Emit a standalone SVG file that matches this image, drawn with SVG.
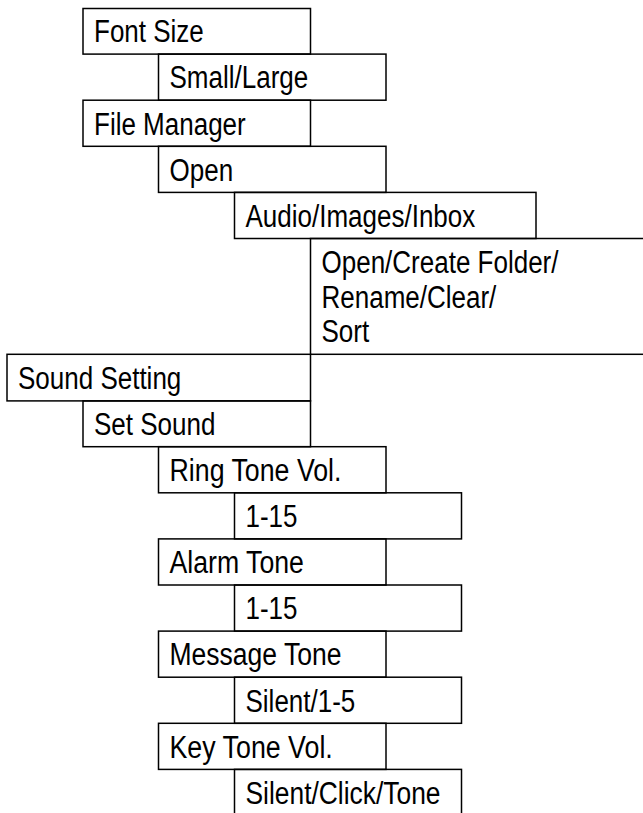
<svg xmlns="http://www.w3.org/2000/svg" width="643" height="813" viewBox="0 0 643 813">
<style>
rect{fill:none;stroke:#000;stroke-width:1.5}
text{font-family:"Liberation Sans Narrow","Liberation Sans",Arial,sans-serif;font-size:31px;fill:#000}
</style>
<rect x="0" y="0" width="643" height="813" style="fill:#fff;stroke:none"/>
<g id="connectors"></g>
<g id="n-font-size"><rect x="83" y="8.5" width="227.5" height="45.6"/><text x="94" y="42.3" textLength="109.8" lengthAdjust="spacingAndGlyphs">Font Size</text></g>
<g id="n-small-large"><rect x="158.5" y="54.1" width="227.5" height="46.1"/><text x="169.5" y="88.4" textLength="138.7" lengthAdjust="spacingAndGlyphs">Small/Large</text></g>
<g id="n-file-manager"><rect x="83" y="100.2" width="227.5" height="46.1"/><text x="94" y="134.5" textLength="151.7" lengthAdjust="spacingAndGlyphs">File Manager</text></g>
<g id="n-open"><rect x="158.5" y="146.3" width="227.5" height="46.1"/><text x="169.5" y="180.6" textLength="63.6" lengthAdjust="spacingAndGlyphs">Open</text></g>
<g id="n-audio"><rect x="234.5" y="192.4" width="301.5" height="46.1"/><text x="245.5" y="226.7" textLength="229.8" lengthAdjust="spacingAndGlyphs">Audio/Images/Inbox</text></g>
<g id="n-open-create"><rect x="310.5" y="238.5" width="340" height="115.8"/><text x="321.5" y="272.8" textLength="237" lengthAdjust="spacingAndGlyphs">Open/Create Folder/</text><text x="321.5" y="307.5" textLength="174.8" lengthAdjust="spacingAndGlyphs">Rename/Clear/</text><text x="321.5" y="342.2" textLength="47.7" lengthAdjust="spacingAndGlyphs">Sort</text></g>
<g id="n-sound-setting"><rect x="7" y="354.3" width="303.5" height="46.6"/><text x="18" y="388.6" textLength="163.3" lengthAdjust="spacingAndGlyphs">Sound Setting</text></g>
<g id="n-set-sound"><rect x="83" y="400.9" width="227.5" height="45.8"/><text x="94" y="435" textLength="121.4" lengthAdjust="spacingAndGlyphs">Set Sound</text></g>
<g id="n-ring-tone"><rect x="158.5" y="446.7" width="227.5" height="46.1"/><text x="169.5" y="481" textLength="172" lengthAdjust="spacingAndGlyphs">Ring Tone Vol.</text></g>
<g id="n-ring-range"><rect x="234.5" y="492.8" width="227" height="46.1"/><text x="245.5" y="527.1" textLength="52" lengthAdjust="spacingAndGlyphs">1-15</text></g>
<g id="n-alarm-tone"><rect x="158.5" y="538.9" width="227.5" height="46.1"/><text x="169.5" y="573.2" textLength="134.4" lengthAdjust="spacingAndGlyphs">Alarm Tone</text></g>
<g id="n-alarm-range"><rect x="234.5" y="585" width="227" height="46.1"/><text x="245.5" y="619.3" textLength="52" lengthAdjust="spacingAndGlyphs">1-15</text></g>
<g id="n-message-tone"><rect x="158.5" y="631.1" width="227.5" height="46.1"/><text x="169.5" y="665.4" textLength="172" lengthAdjust="spacingAndGlyphs">Message Tone</text></g>
<g id="n-message-range"><rect x="234.5" y="677.2" width="227" height="46.1"/><text x="245.5" y="711.5" textLength="109.8" lengthAdjust="spacingAndGlyphs">Silent/1-5</text></g>
<g id="n-key-tone"><rect x="158.5" y="723.3" width="227.5" height="46.1"/><text x="169.5" y="757.6" textLength="163.3" lengthAdjust="spacingAndGlyphs">Key Tone Vol.</text></g>
<g id="n-key-range"><rect x="234.5" y="769.4" width="227" height="60"/><text x="245.5" y="803.7" textLength="195" lengthAdjust="spacingAndGlyphs">Silent/Click/Tone</text></g>
</svg>
